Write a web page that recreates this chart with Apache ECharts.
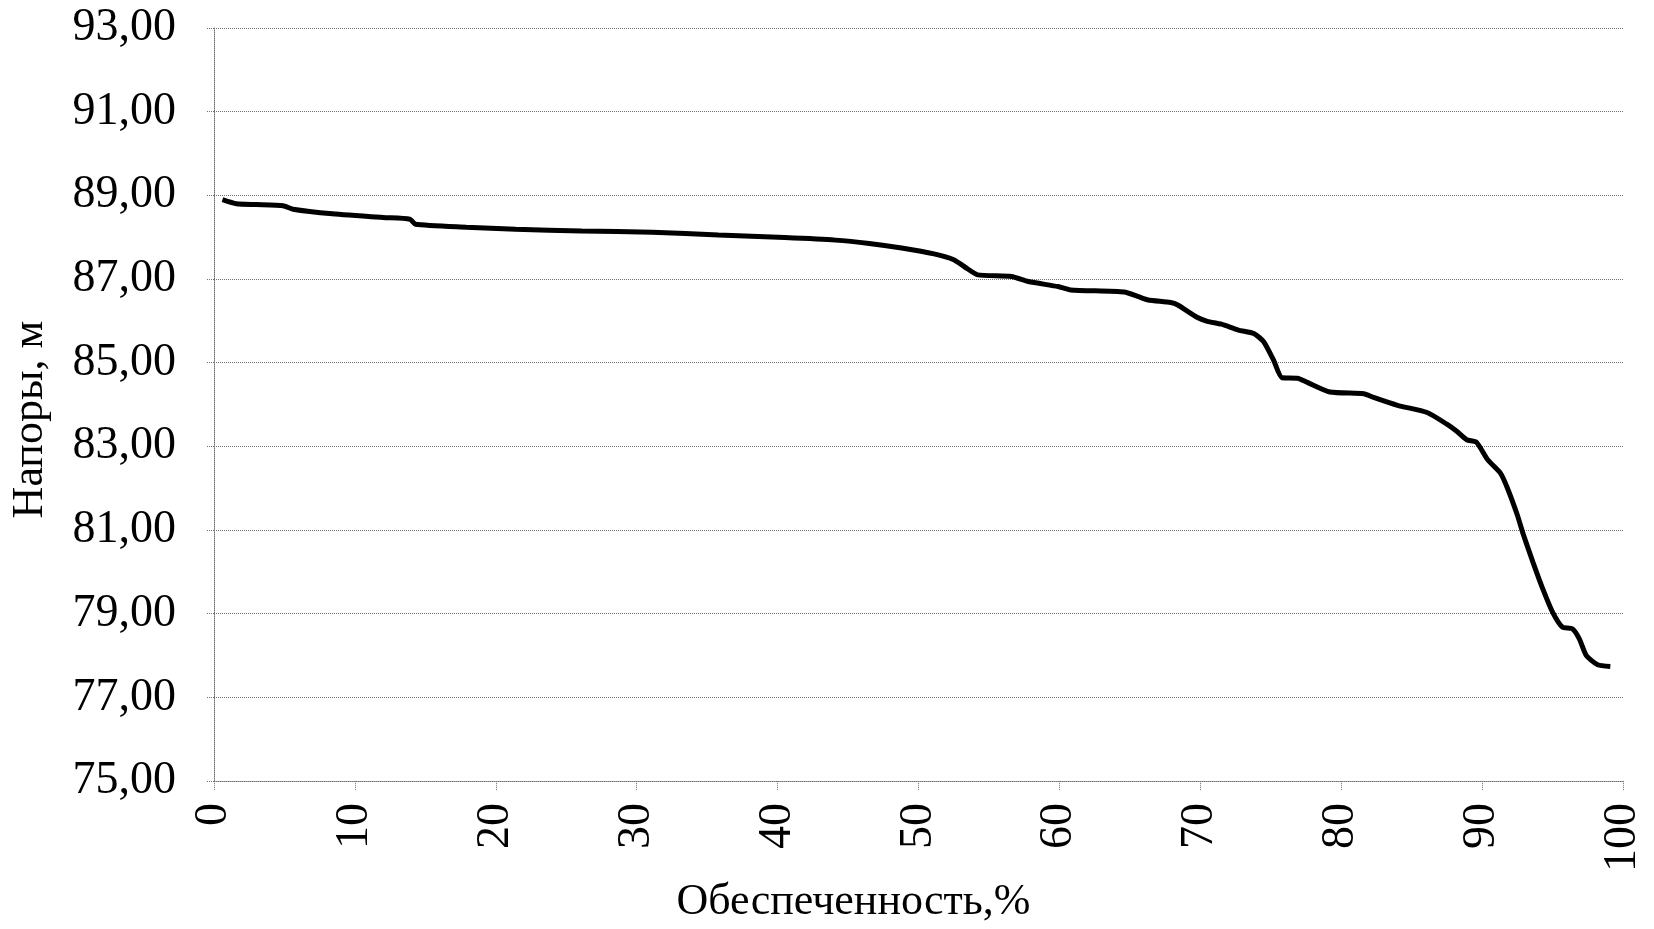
<!DOCTYPE html>
<html><head><meta charset="utf-8">
<script src="https://cdn.jsdelivr.net/npm/echarts@6/dist/echarts.min.js"></script>
<style>html,body{margin:0;padding:0;background:#fff}#c{width:1654px;height:929px}</style>
</head><body><div id="c"></div>
<script>
// Обеспеченность, % (x) and Напоры, м (y)
const obespechennost = [0.6,1.6,3.0,4.9,5.6,8.4,12.0,13.9,14.3,17.9,21.4,26.1,31.1,35.8,40.5,44.1,46.5,48.8,51.1,52.5,53.5,54.2,56.6,57.8,59.9,60.8,64.6,65.6,66.3,67.9,68.4,69.8,70.5,71.5,72.7,73.8,74.5,75.2,75.8,76.9,77.6,79.2,81.6,82.3,84.0,86.1,87.5,88.2,88.9,89.6,90.4,91.3,91.8,92.5,92.9,93.6,94.3,95.0,95.7,96.4,96.9,97.4,98.2,99.1];
const napory = [88.90,88.80,88.78,88.75,88.67,88.56,88.47,88.43,88.31,88.24,88.19,88.15,88.12,88.05,87.99,87.93,87.85,87.74,87.60,87.46,87.24,87.10,87.06,86.94,86.82,86.74,86.69,86.58,86.50,86.44,86.38,86.08,85.99,85.92,85.78,85.70,85.50,85.06,84.64,84.63,84.53,84.30,84.26,84.17,83.98,83.81,83.53,83.36,83.16,83.10,82.68,82.36,82.00,81.36,80.92,80.24,79.60,79.04,78.68,78.64,78.40,78.00,77.78,77.74];
const yTicks = [75,77,79,81,83,85,87,89,91,93];
const xTicks = [0,10,20,30,40,50,60,70,80,90,100];
const xName = 'Обеспеченность,%';
const yName = 'Напоры, м';

const FONT = "'Liberation Serif', 'Times New Roman', serif";
const dotted = {color: '#707070', width: 1, type: 'dotted'};
const chart = echarts.init(document.getElementById('c'), null, {renderer: 'canvas'});
chart.setOption({
  animation: false,
  backgroundColor: '#fff',
  grid: {left: 211, right: 31, top: 28, bottom: 146, containLabel: false},
  xAxis: {
    type: 'value', min: xTicks[0], max: xTicks[xTicks.length-1], interval: 10,
    name: xName, nameLocation: 'middle', nameGap: 81,
    nameTextStyle: {fontFamily: FONT, fontSize: 44, color: '#000', padding: [0, 130, 0, 0]},
    axisLine: {show: true, lineStyle: dotted},
    axisTick: {show: true, length: 10, lineStyle: dotted},
    axisLabel: {rotate: 90, margin: 22, fontFamily: FONT, fontSize: 46, color: '#000'},
    splitLine: {show: false}
  },
  yAxis: {
    type: 'value', min: yTicks[0], max: yTicks[yTicks.length-1], interval: 1,
    name: yName, nameLocation: 'middle', nameGap: 162,
    nameTextStyle: {fontFamily: FONT, fontSize: 44, color: '#000', padding: [0, 30, 0, 0]},
    axisLine: {show: true, lineStyle: dotted},
    axisTick: {show: true, length: 8, lineStyle: dotted, customValues: yTicks},
    axisLabel: {margin: 38, fontFamily: FONT, fontSize: 46, color: '#000', customValues: yTicks,
      formatter: v => v.toFixed(2).replace('.', ',')},
    splitLine: {show: true, lineStyle: dotted}
  },
  series: [{
    type: 'line',
    data: obespechennost.map((x, i) => [x, napory[i]]),
    showSymbol: false, symbol: 'none', smooth: 0.2,
    lineStyle: {color: '#000', width: 5}
  }]
});
</script>
</body></html>
